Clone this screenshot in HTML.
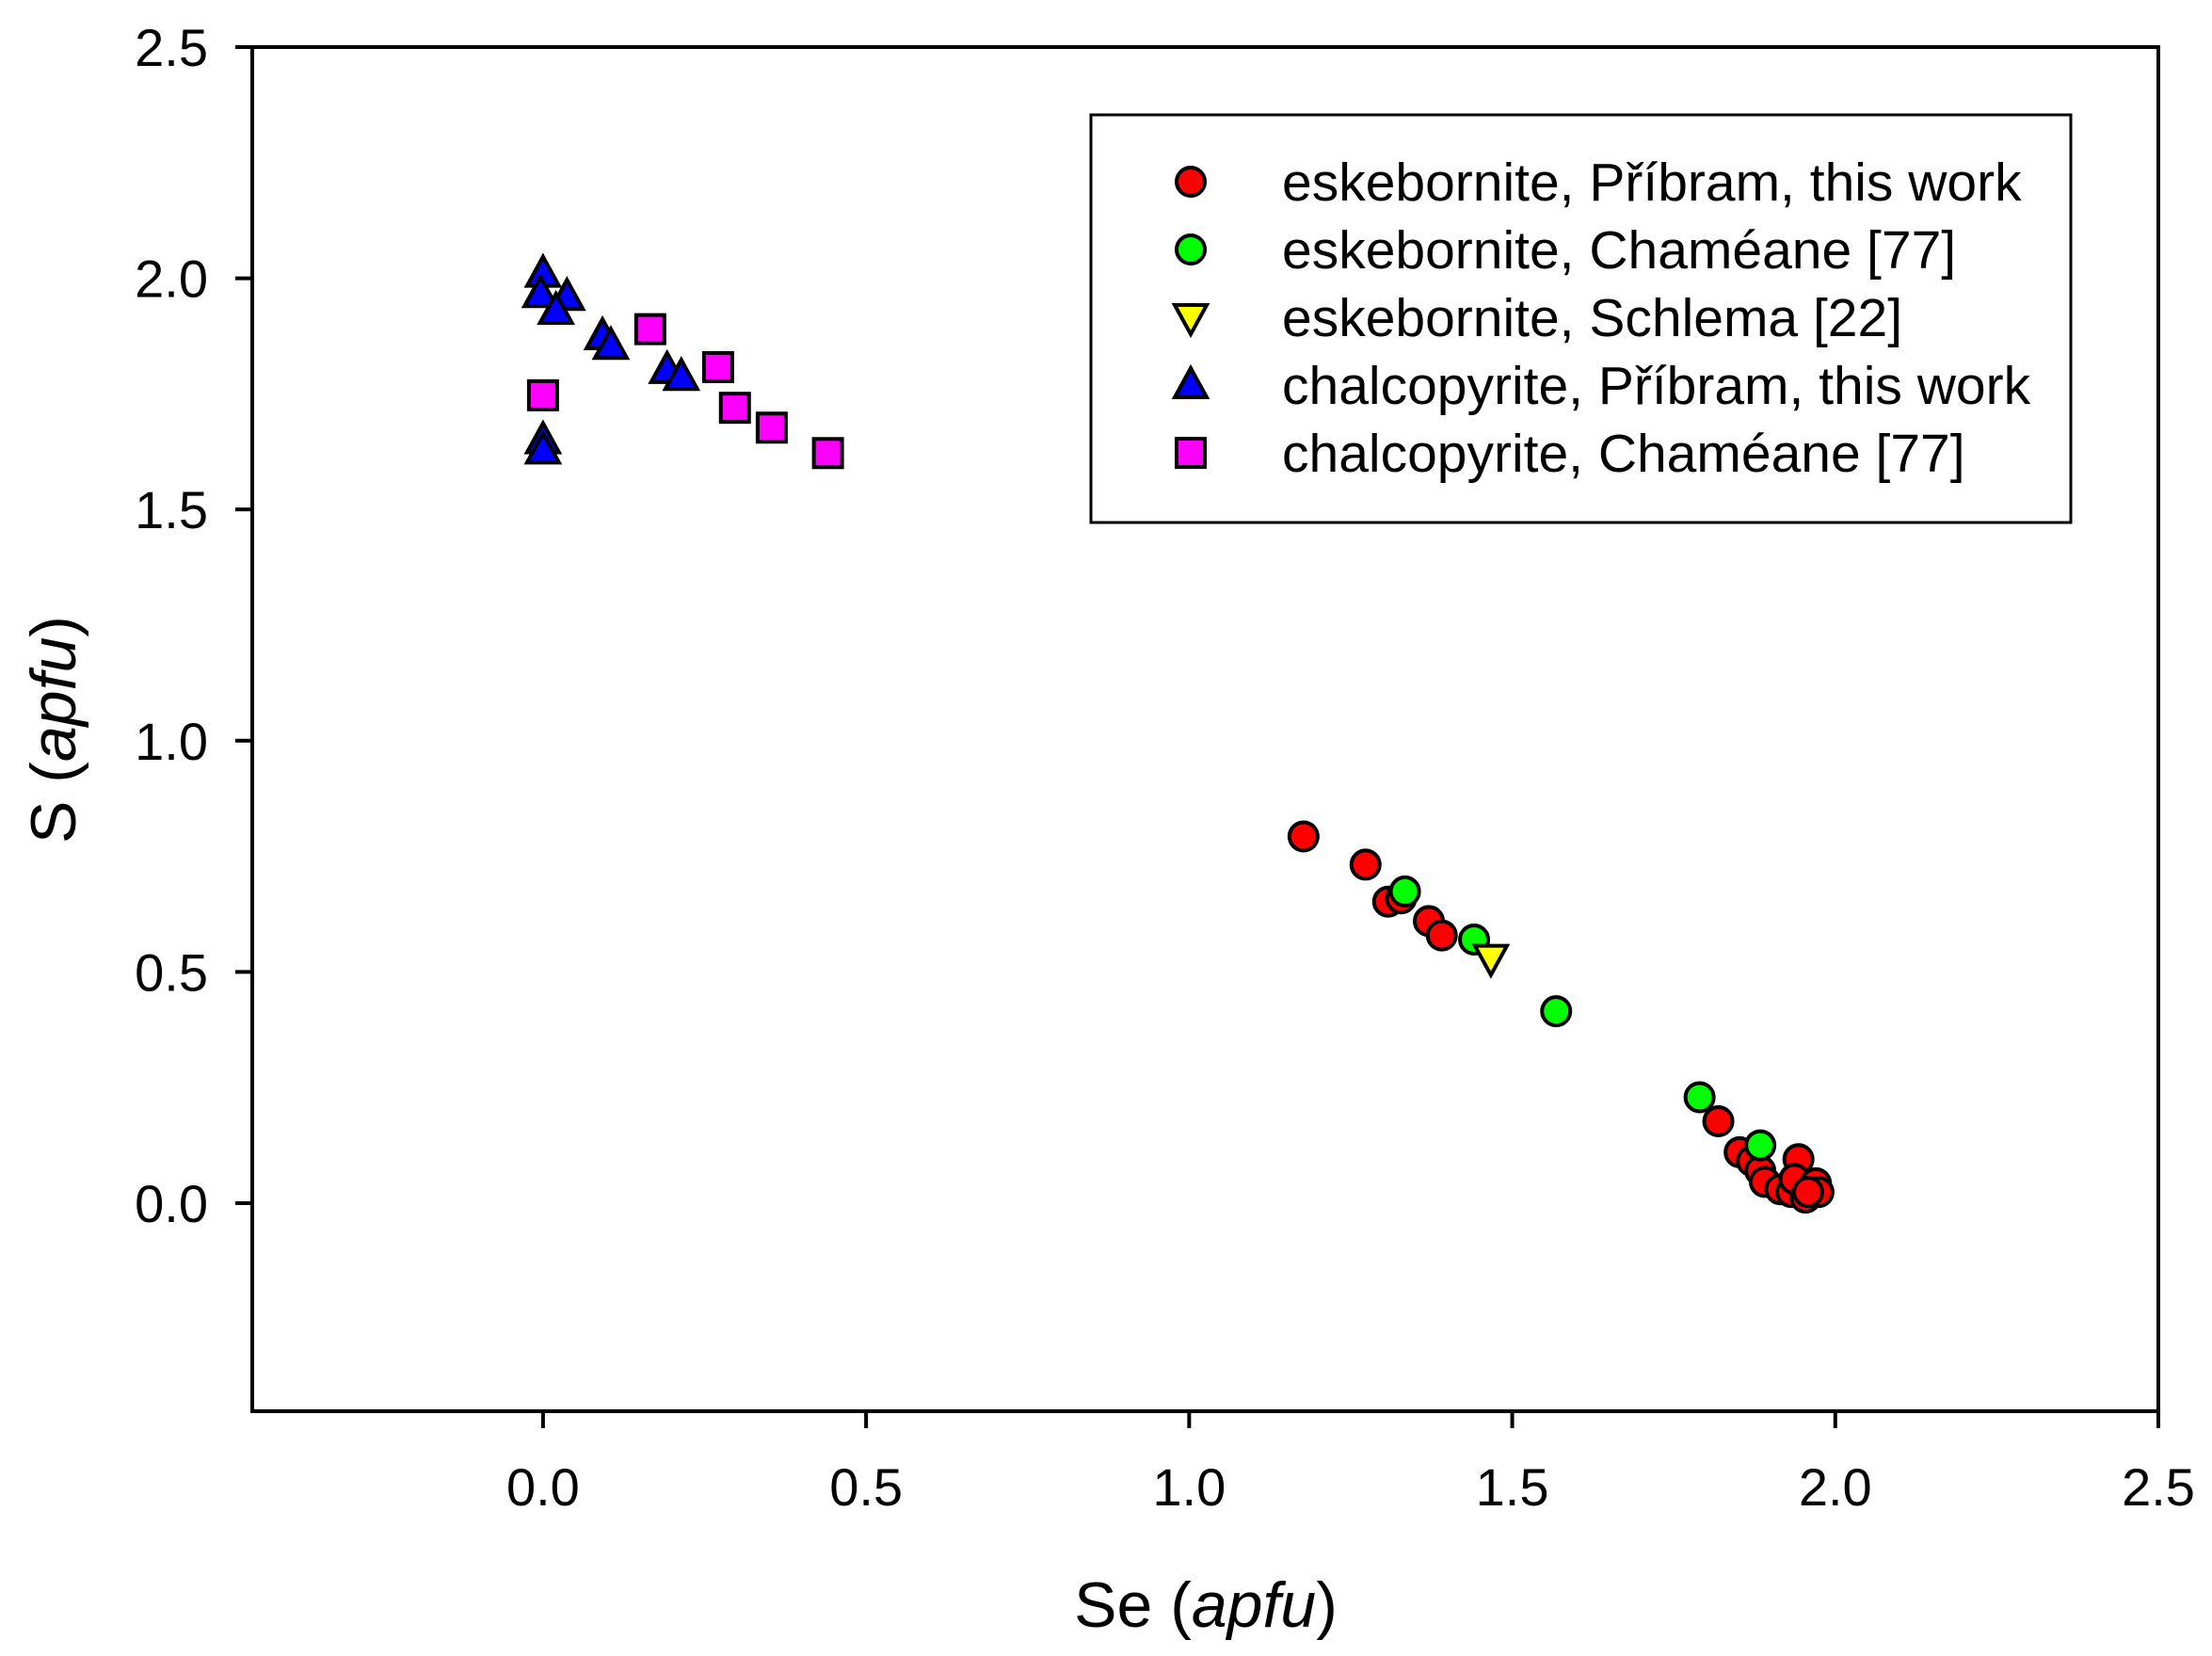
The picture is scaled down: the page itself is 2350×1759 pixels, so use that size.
<!DOCTYPE html>
<html><head><meta charset="utf-8"><style>
html,body{margin:0;padding:0;background:#fff;}
svg{display:block;font-family:"Liberation Sans",Arial,sans-serif;}
</style></head><body>
<svg id="chart" width="2350" height="1759" viewBox="0 0 2350 1759" xmlns="http://www.w3.org/2000/svg">
<rect x="268" y="50" width="2025" height="1449" fill="none" stroke="#000" stroke-width="4"/>
<g id="axes"></g>
<g id="marks"></g>
<text transform="translate(80,775) rotate(-90)" text-anchor="middle" font-size="68">S (<tspan font-style="italic">apfu</tspan>)</text>
<text x="1281" y="1728" text-anchor="middle" font-size="68">Se (<tspan font-style="italic">apfu</tspan>)</text>
<g>
<rect x="1159" y="122" width="1041" height="433" fill="#fff" stroke="#000" stroke-width="3"/>
<g id="legend-items"></g>
</g>
</svg>
<script>
const xTicks=[0,0.5,1.0,1.5,2.0,2.5];
const yTicks=[0,0.5,1.0,1.5,2.0,2.5];
const tickLabels=["0.0","0.5","1.0","1.5","2.0","2.5"];
const eskPribSe=[1.177,1.273,1.308,1.328,1.371,1.391,1.819,1.852,1.871,1.884,1.891,1.915,1.932,1.943,1.937,1.954,1.970,1.974,1.958];
const eskPribS=[0.793,0.732,0.652,0.659,0.610,0.579,0.177,0.110,0.091,0.070,0.046,0.030,0.024,0.095,0.052,0.012,0.043,0.024,0.024];
const eskChamSe=[1.334,1.441,1.568,1.790,1.884];
const eskChamS=[0.674,0.570,0.415,0.229,0.125];
const eskSchSe=[1.467];
const eskSchS=[0.530];
const chalPribSe=[0,-0.004,0.037,0.02,0.092,0.105,0.192,0.214,0,0];
const chalPribS=[2.01,1.966,1.96,1.93,1.875,1.854,1.802,1.787,1.65,1.628];
const chalChamSe=[0,0.166,0.271,0.297,0.354,0.441];
const chalChamS=[1.747,1.89,1.808,1.72,1.677,1.622];
const legendLabels=["eskebornite, Příbram, this work","eskebornite, Chaméane [77]","eskebornite, Schlema [22]","chalcopyrite, Příbram, this work","chalcopyrite, Chaméane [77]"];

const NS="http://www.w3.org/2000/svg";
const X0=268,X1=2293,Y0=50,Y1=1499,MIN=-0.45,MAX=2.5;
function sx(v){return X0+(v-MIN)/(MAX-MIN)*(X1-X0);}
function sy(v){return Y1-(v-MIN)/(MAX-MIN)*(Y1-Y0);}
function mk(tag,attrs,parent){const e=document.createElementNS(NS,tag);for(const k in attrs)e.setAttribute(k,attrs[k]);parent.appendChild(e);return e;}
const axes=document.getElementById('axes');
xTicks.forEach((v,i)=>{
  const t=mk('line',{x1:sx(v),x2:sx(v),y1:Y1,y2:Y1+18,stroke:'#000','stroke-width':4},axes);
  
  
  const l=mk('text',{x:sx(v),y:1599,'text-anchor':'middle','font-size':56},axes);
  l.textContent=tickLabels[i];
  
  
});
yTicks.forEach((v,i)=>{
  const t=mk('line',{x1:X0-18,x2:X0,y1:sy(v),y2:sy(v),stroke:'#000','stroke-width':4},axes);
  
  
  const l=mk('text',{x:221,y:sy(v)+20,'text-anchor':'end','font-size':56},axes);
  l.textContent=tickLabels[i];
  
  
});
const R=15;
function marker(shape,fill,cx,cy,parent){
  let e;
  const st={fill:fill,stroke:'#000','stroke-width':4};
  if(shape==='circle'){e=mk('circle',Object.assign({cx:cx,cy:cy,r:R},st),parent);}
  else if(shape==='square'){e=mk('rect',Object.assign({x:cx-R,y:cy-R,width:2*R,height:2*R},st),parent);}
  else if(shape==='up'){e=mk('polygon',Object.assign({points:`${cx},${cy-R-3} ${cx+R+2},${cy+R-2} ${cx-R-2},${cy+R-2}`},st),parent);}
  else {e=mk('polygon',Object.assign({points:`${cx},${cy+R+3} ${cx+R+2},${cy-R+2} ${cx-R-2},${cy-R+2}`},st),parent);}
  return e;
}
const marks=document.getElementById('marks');
const series=[
 [chalChamSe,chalChamS,'square','#ff00ff','point-chalcopyrite-chameane'],
 [chalPribSe,chalPribS,'up','#0000ff','point-chalcopyrite-pribram'],
 [eskPribSe,eskPribS,'circle','#ff0000','point-eskebornite-pribram'],
 [eskChamSe,eskChamS,'circle','#00ff00','point-eskebornite-chameane'],
 [eskSchSe,eskSchS,'down','#ffff00','point-eskebornite-schlema']
];
series.forEach(s=>{
  s[0].forEach((xv,i)=>{
    const e=marker(s[2],s[3],sx(xv),sy(s[1][i]),marks);
    
    
  });
});
const legShapes=[['circle','#ff0000'],['circle','#00ff00'],['down','#ffff00'],['up','#0000ff'],['square','#ff00ff']];
const lg=document.getElementById('legend-items');
legendLabels.forEach((lab,i)=>{
  const y=193+i*72;
  const m=marker(legShapes[i][0],legShapes[i][1],1265,y,lg);
  
  
  const t=mk('text',{x:1362,y:y+20,'font-size':57},lg);
  t.textContent=lab;
  
  
});
</script>
</body></html>
